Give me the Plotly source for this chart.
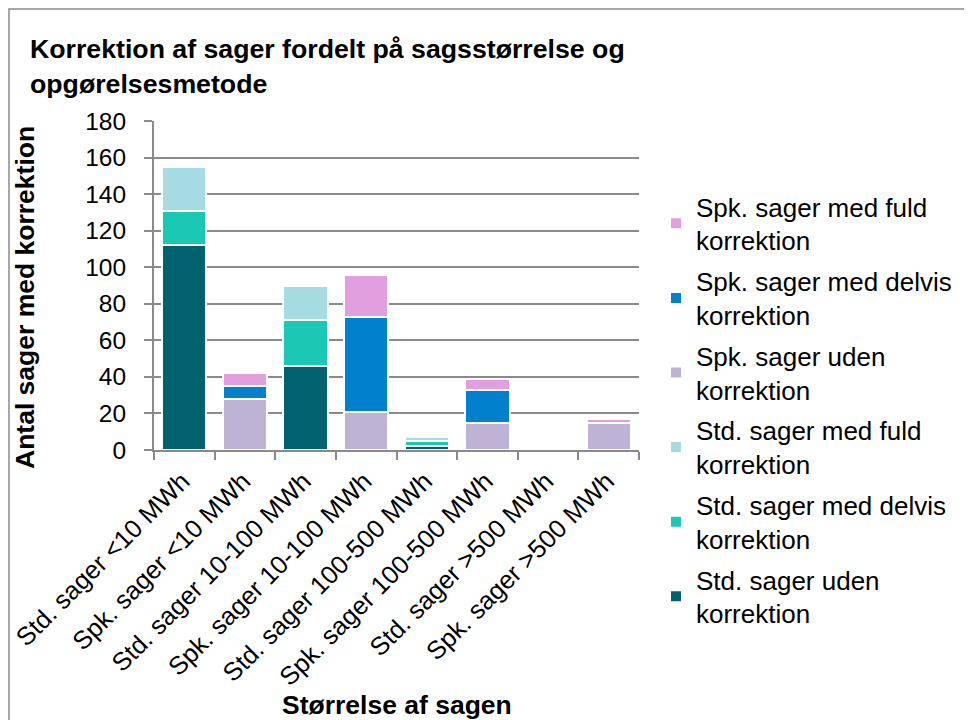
import plotly.graph_objects as go

categories = ["Std. sager <10 MWh", "Spk. sager <10 MWh", "Std. sager 10-100 MWh",
              "Spk. sager 10-100 MWh", "Std. sager 100-500 MWh", "Spk. sager 100-500 MWh",
              "Std. sager >500 MWh", "Spk. sager >500 MWh"]

std_uden = [112, None, 46, None, 2, None, None, None]
std_delvis = [19, None, 25, None, 3, None, None, None]
std_fuld = [24, None, 19, None, 2, None, None, None]
spk_uden = [None, 28, None, 21, None, 15, None, 15]
spk_delvis = [None, 7, None, 52, None, 18, None, None]
spk_fuld = [None, 7, None, 23, None, 6, None, 2]

series = [
    ("Std. sager uden<br>korrektion", std_uden, "#02616E"),
    ("Std. sager med delvis<br>korrektion", std_delvis, "#1BC8B3"),
    ("Std. sager med fuld<br>korrektion", std_fuld, "#A6DBE1"),
    ("Spk. sager uden<br>korrektion", spk_uden, "#BEB3D4"),
    ("Spk. sager med delvis<br>korrektion", spk_delvis, "#0080CD"),
    ("Spk. sager med fuld<br>korrektion", spk_fuld, "#E19FE0"),
]

FONT = "Liberation Sans, Arial, sans-serif"
GREY = "#8a8a8a"

fig = go.Figure()
for i, (name, vals, col) in enumerate(series):
    # legend lists the top of the stack first
    fig.add_trace(go.Bar(x=categories, y=vals, name=name, legendgroup=name,
                         legendrank=len(series) - i,
                         marker=dict(color=col, line=dict(color="white", width=2))))

# page body has an 8px margin, so the figure is drawn 8px in from the screenshot edge
W, H = 964, 712
L, T = 146, 113          # plot area at x 154..639, y 121..450 in the screenshot
PW, PH = 485, 329
R, B = W - L - PW, H - T - PH


def px(x):
    return (x - 154) / PW


def py(y):
    return (450 - y) / PH


fig.update_layout(
    width=W, height=H,
    margin=dict(l=L, r=R, t=T, b=B, autoexpand=False),
    barmode="stack", bargap=0.27,
    paper_bgcolor="white", plot_bgcolor="white",
    font=dict(family=FONT, color="black"),
    title=dict(text="<b>Korrektion af sager fordelt på sagsstørrelse og<br>opgørelsesmetode</b>",
               x=22 / W, xanchor="left", y=1 - 50 / H, yanchor="top",
               font=dict(size=26.7, family=FONT)),
    legend=dict(traceorder="grouped", x=px(656), xanchor="left", y=py(183),
                yanchor="top", font=dict(size=26, family=FONT), tracegroupgap=4,
                maxheight=700, bgcolor="rgba(0,0,0,0)"),
    xaxis=dict(tickangle=-45, tickfont=dict(size=25.5), showline=True, linecolor=GREY,
               linewidth=2, ticks="outside", tickson="boundaries", ticklen=8,
               tickcolor=GREY, tickwidth=2, showgrid=False, automargin=False,
               ticklabelshift=-2, ticklabelstandoff=4),
    yaxis=dict(range=[0, 180], dtick=20, tickfont=dict(size=24.5), showline=True,
               linecolor=GREY, linewidth=2, ticks="outside", ticklen=8,
               tickcolor=GREY, tickwidth=2, gridcolor=GREY, gridwidth=2,
               zeroline=False, ticklabelstandoff=13, automargin=False),
    shapes=[dict(type="rect", xref="paper", yref="paper", x0=px(9), x1=px(1000),
                 y0=py(800), y1=py(9), line=dict(color=GREY, width=1.5), layer="below")],
    annotations=[
        dict(text="<b>Antal sager med korrektion</b>", xref="paper", yref="paper",
             x=px(25), y=py(298), xanchor="center", yanchor="middle", textangle=-90,
             showarrow=False, font=dict(size=26.5, family=FONT)),
        dict(text="<b>Størrelse af sagen</b>", xref="paper", yref="paper",
             x=0.5, y=py(705), xanchor="center", yanchor="middle", showarrow=False,
             font=dict(size=26.5, family=FONT)),
    ],
)

fig.write_html("out.html")
